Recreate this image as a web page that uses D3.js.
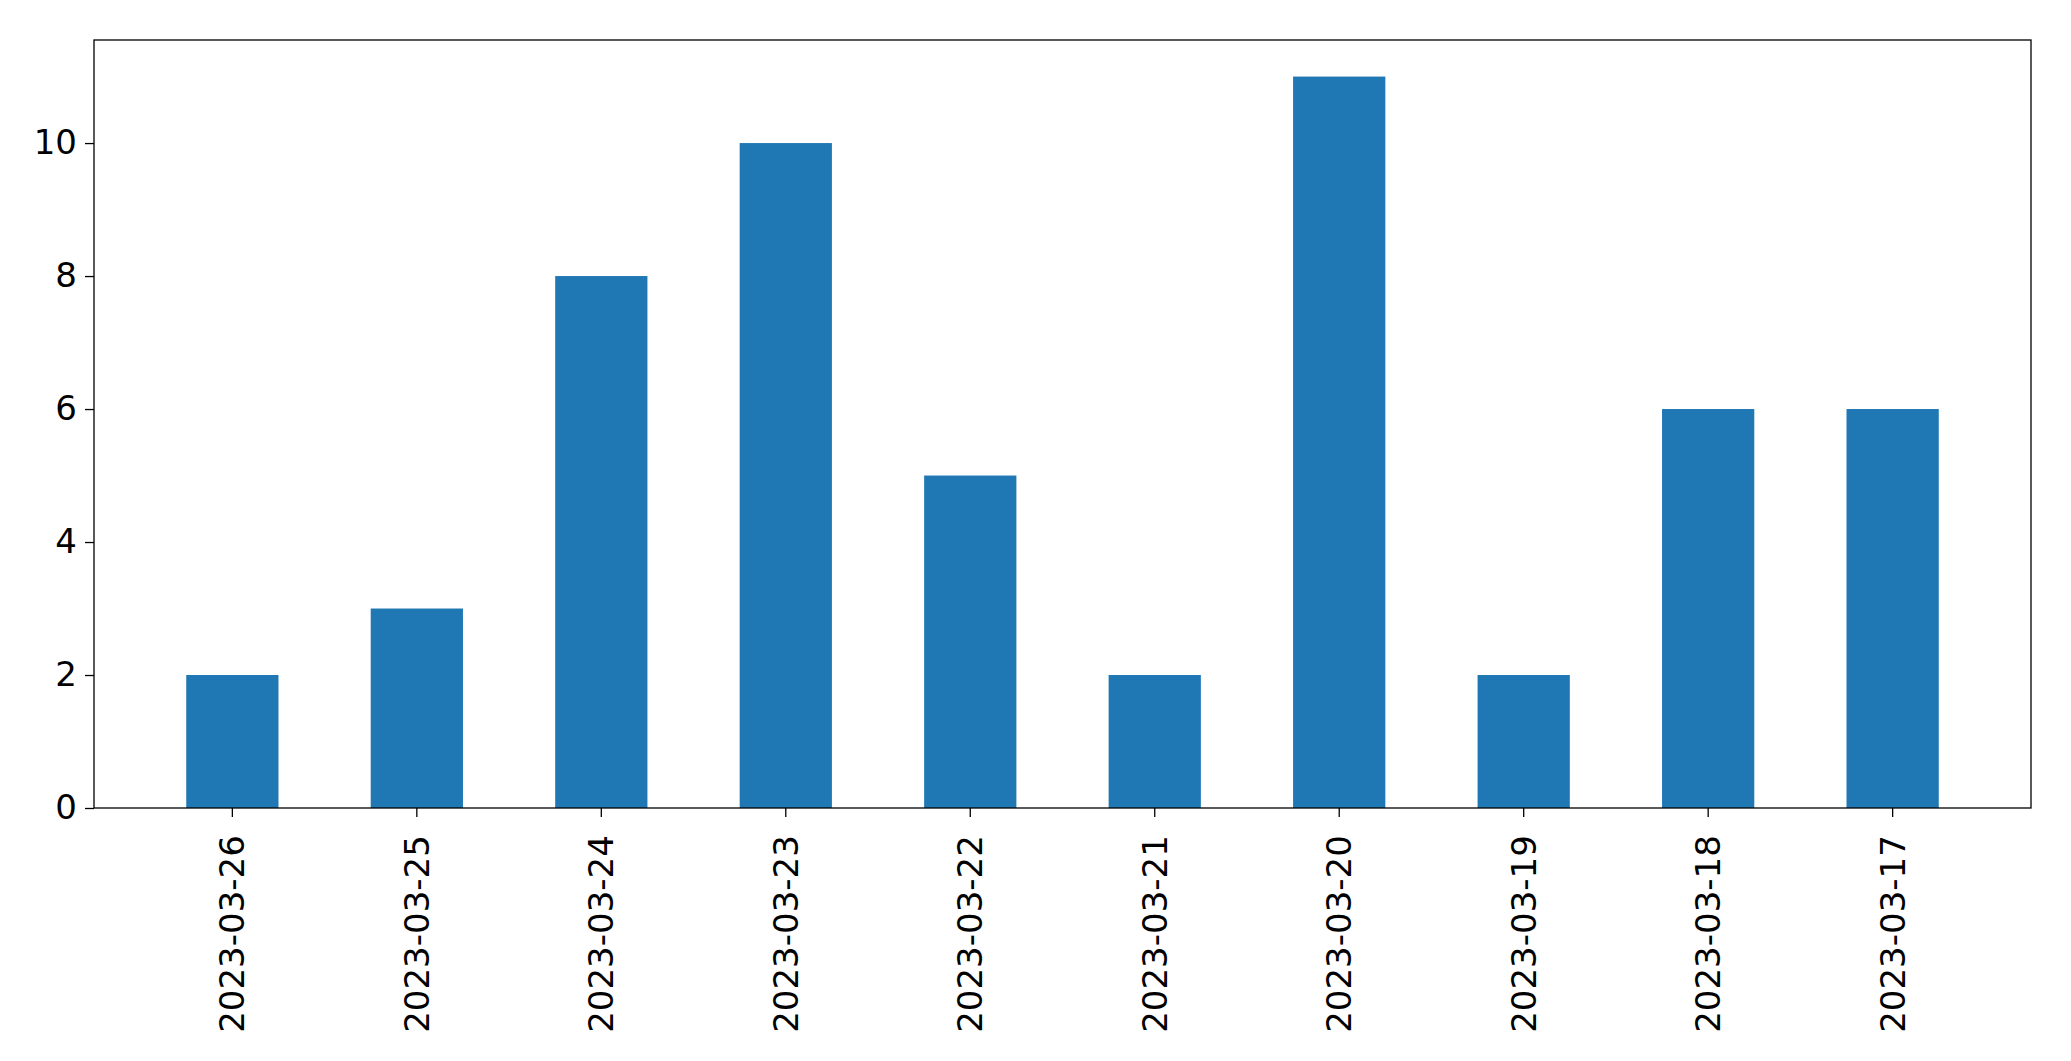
<!DOCTYPE html>
<meta charset="utf-8">
<style>
body{margin:0;background:#fff;}
svg text{font-family:"DejaVu Sans",sans-serif;}
</style>
<body>
<script src="https://d3js.org/d3.v7.min.js"></script>
<script>
const dates = ["2023-03-26","2023-03-25","2023-03-24","2023-03-23","2023-03-22","2023-03-21","2023-03-20","2023-03-19","2023-03-18","2023-03-17"];
const counts = [2,3,8,10,5,2,11,2,6,6];
const yTicks = [0,2,4,6,8,10];

const W = 2071, H = 1061;
const m = {left:94, right:40, top:40, bottom:253};
const svg = d3.select("body").append("svg").attr("width",W).attr("height",H);

const x = d3.scaleBand().domain(dates).range([m.left, W-m.right]).padding(0.5);
const y = d3.scaleLinear().domain([0,11.55]).range([H-m.bottom, m.top]);

svg.selectAll("rect.bar")
  .data(dates)
  .join("rect")
  .attr("x", d => x(d))
  .attr("width", x.bandwidth())
  .attr("y", (d,i) => y(counts[i]))
  .attr("height", (d,i) => y(0)-y(counts[i]))
  .attr("fill","#1f77b4");

const xa = svg.append("g").attr("transform",`translate(0,${H-m.bottom})`)
  .call(d3.axisBottom(x).tickSizeOuter(0).tickSize(9).tickPadding(8));
xa.selectAll("text")
  .attr("font-size",34).attr("fill","#000")
  .attr("transform","rotate(-90)")
  .attr("text-anchor","end").attr("dx","-0.3em").attr("dy","0.35em")
  .attr("x",-17).attr("y",0);
xa.select(".domain").remove();

const ya = svg.append("g").attr("transform",`translate(${m.left},0)`)
  .call(d3.axisLeft(y).tickValues(yTicks).tickSizeOuter(0).tickSize(9).tickPadding(8));
ya.selectAll("text").attr("font-size",34).attr("fill","#000");
ya.select(".domain").remove();
svg.selectAll(".tick line").attr("stroke","#000").attr("stroke-width",1.3);

svg.append("rect").attr("x",m.left).attr("y",m.top)
  .attr("width",W-m.left-m.right).attr("height",H-m.top-m.bottom)
  .attr("fill","none").attr("stroke","#000").attr("stroke-width",1.3);
</script>
</body>
</html>
